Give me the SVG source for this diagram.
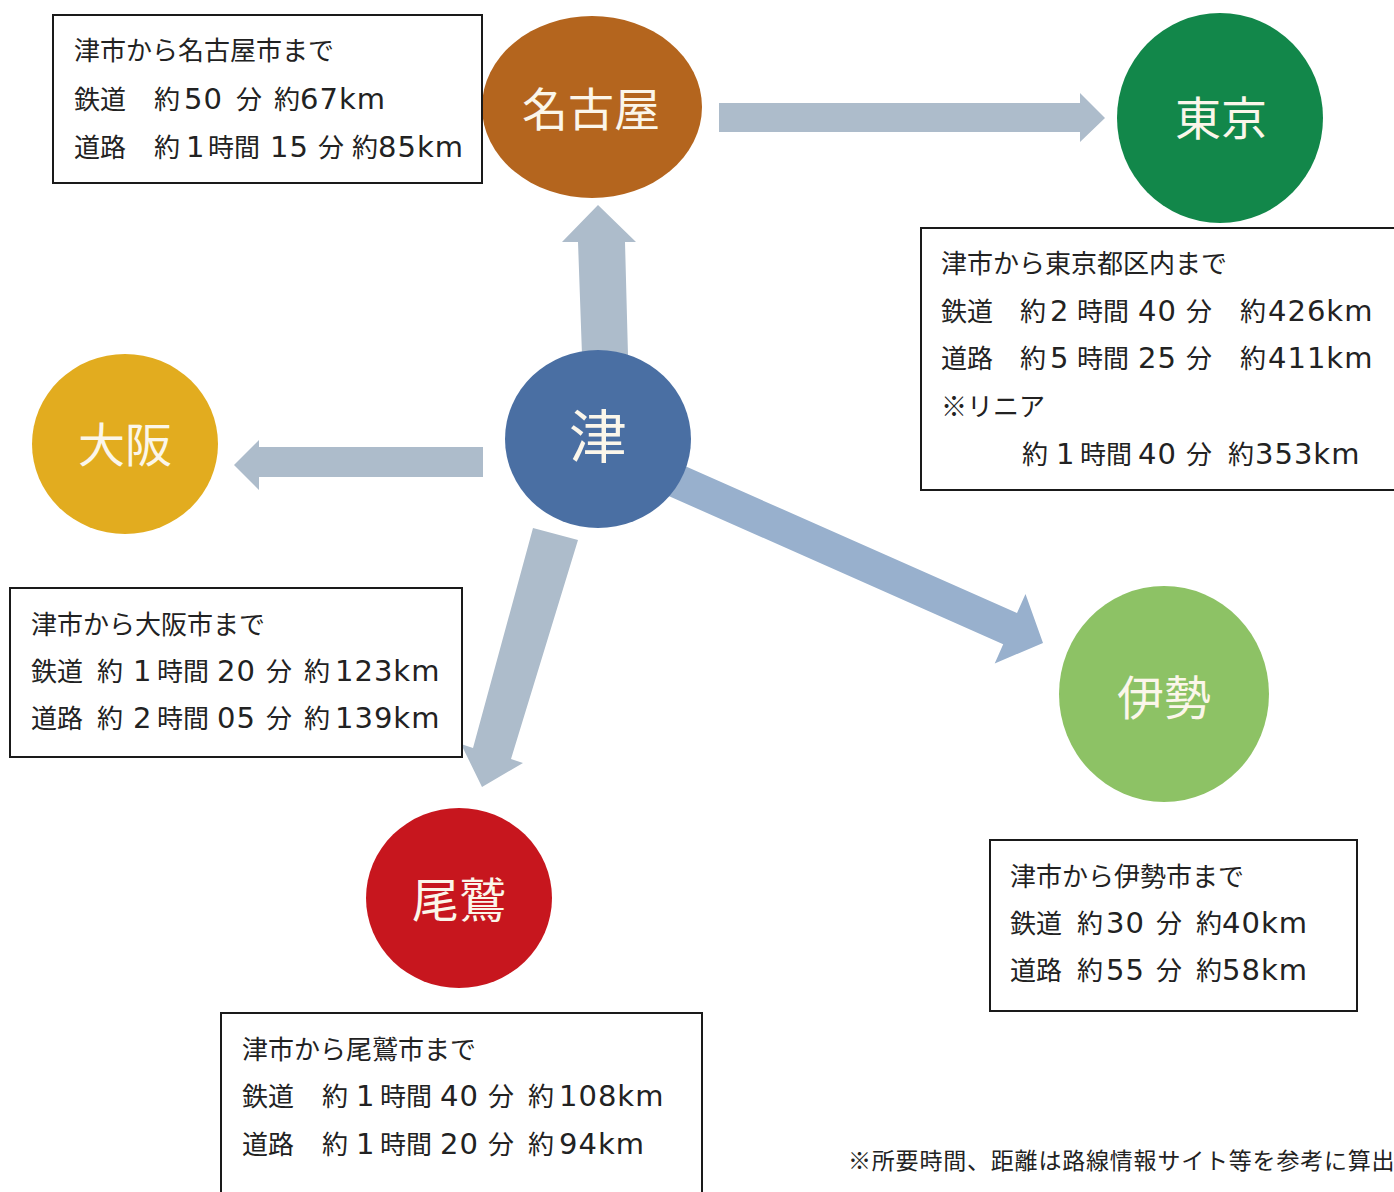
<svg xmlns="http://www.w3.org/2000/svg" width="1394" height="1192" viewBox="0 0 1394 1192">
<style>
.t{font-family:"Noto Sans CJK JP","Noto Sans CJK SC",sans-serif;font-size:26px;fill:#222}
.n{font-family:"DejaVu Sans","Noto Sans",sans-serif;font-size:29px;letter-spacing:1px}
.box{fill:#fff;stroke:#1a1a1a;stroke-width:2}
.arr{fill:#adbccb}
.lbl{font-family:"Noto Sans CJK JP","Noto Sans CJK SC",sans-serif;text-anchor:middle;dominant-baseline:central;fill:#fbf6ea}
.note{font-family:"Noto Sans CJK JP","Noto Sans CJK SC",sans-serif;font-size:23px;fill:#222;letter-spacing:0.8px}
</style>
<rect width="1394" height="1192" fill="#fff"/>
<g id="connectors">
<polygon class="arr" points="719,103 1080,103 1080,93 1105,118 1080,142 1080,132 719,132"/>
<polygon class="arr" points="582,355 628,355 625,242 636,242 598,205 562,242 578,242"/>
<polygon class="arr" points="483,447 259,447 259,440 234,465 259,490 259,477 483,477"/>
<polygon class="arr" points="533,528 578,540 511,759 523,763 482,787 461,744 473,748"/>
<polygon fill="#98b0cd" points="677,462.5 1017,613 1025.5,594 1043,643 994.7,663.4 1003.2,644.2 663,493.5"/>
</g>
<g id="node-nagoya">
<ellipse cx="592" cy="107" rx="110" ry="91" fill="#b4651e"/>
<text class="lbl" x="591" y="106" font-size="46">名古屋</text>
</g>
<g id="node-tokyo">
<ellipse cx="1220" cy="118" rx="103" ry="105" fill="#12874a"/>
<text class="lbl" x="1221" y="115" font-size="46">東京</text>
</g>
<g id="node-tsu">
<ellipse cx="598" cy="439" rx="93" ry="89" fill="#4a6fa3"/>
<text class="lbl" x="598" y="433" font-size="58">津</text>
</g>
<g id="node-osaka">
<ellipse cx="125" cy="444" rx="93" ry="90" fill="#e2ac1f"/>
<text class="lbl" x="125" y="441" font-size="47">大阪</text>
</g>
<g id="node-ise">
<ellipse cx="1164" cy="694" rx="105" ry="108" fill="#8dc265"/>
<text class="lbl" x="1164" y="694" font-size="47">伊勢</text>
</g>
<g id="node-owase">
<ellipse cx="459" cy="898" rx="93" ry="90" fill="#c7161e"/>
<text class="lbl" x="459" y="896" font-size="47">尾鷲</text>
</g>
<g id="box-nagoya">
<rect class="box" x="53" y="15" width="429" height="168"/>
<text class="t" x="74" y="60">津市から名古屋市まで</text>
<text class="t" y="109"><tspan x="74">鉄道</tspan><tspan x="154">約</tspan><tspan class="n" x="184">50</tspan><tspan x="236">分</tspan><tspan x="274">約</tspan><tspan class="n" x="300">67km</tspan></text>
<text class="t" y="157"><tspan x="74">道路</tspan><tspan x="154">約</tspan><tspan class="n" x="186">1</tspan><tspan x="208">時間</tspan><tspan class="n" x="270">15</tspan><tspan x="318">分</tspan><tspan x="352">約</tspan><tspan class="n" x="378">85km</tspan></text>
</g>
<g id="box-tokyo">
<rect class="box" x="921" y="228" width="480" height="262"/>
<text class="t" x="941" y="273">津市から東京都区内まで</text>
<text class="t" y="321"><tspan x="941">鉄道</tspan><tspan x="1020">約</tspan><tspan class="n" x="1050">2</tspan><tspan x="1077">時間</tspan><tspan class="n" x="1138">40</tspan><tspan x="1186">分</tspan><tspan x="1240">約</tspan><tspan class="n" x="1268">426km</tspan></text>
<text class="t" y="368"><tspan x="941">道路</tspan><tspan x="1020">約</tspan><tspan class="n" x="1050">5</tspan><tspan x="1077">時間</tspan><tspan class="n" x="1138">25</tspan><tspan x="1186">分</tspan><tspan x="1240">約</tspan><tspan class="n" x="1268">411km</tspan></text>
<text class="t" x="941" y="416">※リニア</text>
<text class="t" y="464"><tspan x="1022">約</tspan><tspan class="n" x="1056">1</tspan><tspan x="1080">時間</tspan><tspan class="n" x="1138">40</tspan><tspan x="1186">分</tspan><tspan x="1228">約</tspan><tspan class="n" x="1255">353km</tspan></text>
</g>
<g id="box-osaka">
<rect class="box" x="10" y="588" width="452" height="169"/>
<text class="t" x="31" y="634">津市から大阪市まで</text>
<text class="t" y="681"><tspan x="31">鉄道</tspan><tspan x="97">約</tspan><tspan class="n" x="133">1</tspan><tspan x="157">時間</tspan><tspan class="n" x="217">20</tspan><tspan x="266">分</tspan><tspan x="304">約</tspan><tspan class="n" x="335">123km</tspan></text>
<text class="t" y="728"><tspan x="31">道路</tspan><tspan x="97">約</tspan><tspan class="n" x="133">2</tspan><tspan x="157">時間</tspan><tspan class="n" x="217">05</tspan><tspan x="266">分</tspan><tspan x="304">約</tspan><tspan class="n" x="335">139km</tspan></text>
</g>
<g id="box-ise">
<rect class="box" x="990" y="840" width="367" height="171"/>
<text class="t" x="1010" y="886">津市から伊勢市まで</text>
<text class="t" y="933"><tspan x="1010">鉄道</tspan><tspan x="1077">約</tspan><tspan class="n" x="1106">30</tspan><tspan x="1156">分</tspan><tspan x="1196">約</tspan><tspan class="n" x="1222">40km</tspan></text>
<text class="t" y="980"><tspan x="1010">道路</tspan><tspan x="1077">約</tspan><tspan class="n" x="1106">55</tspan><tspan x="1156">分</tspan><tspan x="1196">約</tspan><tspan class="n" x="1222">58km</tspan></text>
</g>
<g id="box-owase">
<rect class="box" x="221" y="1013" width="481" height="190"/>
<text class="t" x="242" y="1059">津市から尾鷲市まで</text>
<text class="t" y="1106"><tspan x="242">鉄道</tspan><tspan x="322">約</tspan><tspan class="n" x="356">1</tspan><tspan x="380">時間</tspan><tspan class="n" x="440">40</tspan><tspan x="488">分</tspan><tspan x="528">約</tspan><tspan class="n" x="559">108km</tspan></text>
<text class="t" y="1154"><tspan x="242">道路</tspan><tspan x="322">約</tspan><tspan class="n" x="356">1</tspan><tspan x="380">時間</tspan><tspan class="n" x="440">20</tspan><tspan x="488">分</tspan><tspan x="528">約</tspan><tspan class="n" x="559">94km</tspan></text>
</g>
<text class="note" x="848" y="1169">※所要時間、距離は路線情報サイト等を参考に算出</text>
</svg>
